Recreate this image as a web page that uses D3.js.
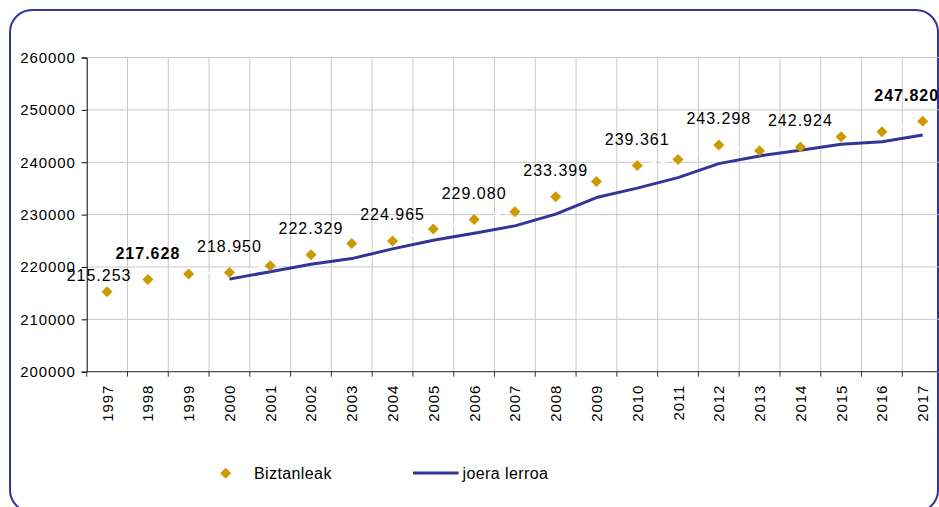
<!DOCTYPE html>
<html>
<head>
<meta charset="utf-8">
<script src="https://cdn.jsdelivr.net/npm/d3@7"></script>
<style>
  body { margin: 0; background: #fff; }
  svg { display: block; font-family: "Liberation Sans", Arial, sans-serif; }
</style>
</head>
<body>
<div id="chart"></div>
<script>
// years on the category axis
var years = ["1997","1998","1999","2000","2001","2002","2003","2004","2005","2006","2007",
             "2008","2009","2010","2011","2012","2013","2014","2015","2016","2017"];

// Biztanleak (population)
var biztanleak = [215253, 217628, 218650, 218950, 220230, 222329, 224490, 224965, 227240, 229080, 230540,
                  233399, 236320, 239361, 240520, 243298, 242180, 242924, 244850, 245800, 247820];

// joera lerroa (trend line), starts in 2000
var trendYears = ["2000","2001","2002","2003","2004","2005","2006","2007","2008",
                  "2009","2010","2011","2012","2013","2014","2015","2016","2017"];
var trendValues = [217680, 219100, 220500, 221600, 223450, 225100, 226450, 227850, 230080,
                   233250, 235050, 237060, 239730, 241200, 242300, 243440, 243930, 245210];

// years that carry a data label
var labelYears = ["1997","1998","2000","2002","2004","2006","2008","2010","2012","2014","2017"];
var yTicks = [200000, 210000, 220000, 230000, 240000, 250000, 260000];

var W = 939, H = 507;
var plot = {left: 86.7, right: 943.1, top: 57.5, bottom: 371.7};

var svg = d3.select("#chart").append("svg")
  .attr("width", W)
  .attr("height", H);

var x = d3.scaleBand()
  .domain(years)
  .range([plot.left, plot.right]);
var y = d3.scaleLinear()
  .domain([200000, 260000])
  .range([plot.bottom, plot.top]);

var fmt = function(v) { return d3.format(",")(v).replace(/,/g, "."); };

// frame
svg.append("rect")
  .attr("x", 10).attr("y", 10)
  .attr("width", 928).attr("height", 502)
  .attr("rx", 22).attr("ry", 22)
  .attr("fill", "none")
  .attr("stroke", "#333399")
  .attr("stroke-width", 2);

// gridlines
svg.append("g")
  .selectAll("line.h")
  .data(yTicks)
  .enter().append("line")
  .attr("x1", plot.left).attr("x2", plot.right)
  .attr("y1", d => y(d)).attr("y2", d => y(d))
  .attr("stroke", "#c8c8c8");
svg.append("g")
  .selectAll("line.v")
  .data(years.slice(1))
  .enter().append("line")
  .attr("x1", d => x(d)).attr("x2", d => x(d))
  .attr("y1", plot.top).attr("y2", plot.bottom)
  .attr("stroke", "#c8c8c8");

// y axis
var yAxis = svg.append("g")
  .attr("transform", "translate(" + plot.left + ",0)")
  .call(d3.axisLeft(y).tickValues(yTicks).tickSize(5).tickPadding(6).tickFormat(d3.format("d")));
yAxis.select(".domain").attr("stroke", "#000");
yAxis.selectAll(".tick line").attr("stroke", "#000");
yAxis.selectAll("text")
  .attr("font-size", 15)
  .attr("letter-spacing", 0.9)
  .attr("fill", "#000")
  .attr("font-family", "Liberation Sans, Arial, sans-serif");

// x axis (ticks between categories)
var xAxis = svg.append("g")
  .attr("transform", "translate(0," + plot.bottom + ")");
xAxis.append("line")
  .attr("x1", plot.left).attr("x2", plot.right)
  .attr("stroke", "#333");
xAxis.selectAll("line.tk")
  .data(years.concat(["end"]))
  .enter().append("line")
  .attr("x1", (d, i) => plot.left + i * x.step())
  .attr("x2", (d, i) => plot.left + i * x.step())
  .attr("y1", 0).attr("y2", 5)
  .attr("stroke", "#333");
xAxis.selectAll("text")
  .data(years)
  .enter().append("text")
  .attr("transform", d => "translate(" + (x(d) + x.bandwidth() / 2 + 5.5) + ",13) rotate(-90)")
  .attr("text-anchor", "end")
  .attr("font-size", 15)
  .attr("letter-spacing", 0.9)
  .attr("fill", "#000")
  .text(d => d);

// dashed white connector for Biztanleak
var line = d3.line()
  .x((d, i) => x(years[i]) + x.bandwidth() / 2)
  .y(d => y(d));
svg.append("path")
  .datum(biztanleak)
  .attr("d", line)
  .attr("fill", "none")
  .attr("stroke", "#fff")
  .attr("stroke-width", 2)
  .attr("stroke-dasharray", "6,5");

// trend line
var trendLine = d3.line()
  .x((d, i) => x(trendYears[i]) + x.bandwidth() / 2)
  .y(d => y(d));
svg.append("path")
  .datum(trendValues)
  .attr("d", trendLine)
  .attr("fill", "none")
  .attr("stroke", "#333399")
  .attr("stroke-width", 3)
  .attr("stroke-linejoin", "round");

// diamonds
var diamond = "M0,-5.5L5.5,0L0,5.5L-5.5,0Z";
svg.append("g")
  .selectAll("path")
  .data(biztanleak)
  .enter().append("path")
  .attr("d", diamond)
  .attr("transform", (d, i) => "translate(" + (x(years[i]) + x.bandwidth() / 2) + "," + y(d) + ")")
  .attr("fill", "#cc9900");

// data labels
var boldYears = ["1998", "2017"];
svg.append("g")
  .selectAll("text")
  .data(labelYears)
  .enter().append("text")
  .attr("x", d => {
    var cx = x(d) + x.bandwidth() / 2;
    if (d === "1997") return cx - 8;
    if (d === "2017") return cx - 16;
    return cx;
  })
  .attr("y", d => {
    var cy = y(biztanleak[years.indexOf(d)]);
    return d === "1997" ? cy - 10.5 : cy - 20.5;
  })
  .attr("text-anchor", "middle")
  .attr("font-size", 16)
  .attr("letter-spacing", 1)
  .attr("font-weight", d => boldYears.indexOf(d) >= 0 ? "bold" : "normal")
  .attr("fill", "#000")
  .text(d => fmt(biztanleak[years.indexOf(d)]));

// legend
var lg = svg.append("g");
lg.append("path")
  .attr("d", diamond)
  .attr("transform", "translate(225.7,473.3)")
  .attr("fill", "#cc9900");
lg.append("text")
  .attr("x", 254).attr("y", 479)
  .attr("font-size", 16)
  .attr("letter-spacing", 0.4)
  .text("Biztanleak");
lg.append("line")
  .attr("x1", 413).attr("x2", 458.5)
  .attr("y1", 473).attr("y2", 473)
  .attr("stroke", "#333399")
  .attr("stroke-width", 3);
lg.append("text")
  .attr("x", 462.5).attr("y", 479)
  .attr("font-size", 16)
  .attr("letter-spacing", 0.4)
  .text("joera lerroa");
</script>
</body>
</html>
